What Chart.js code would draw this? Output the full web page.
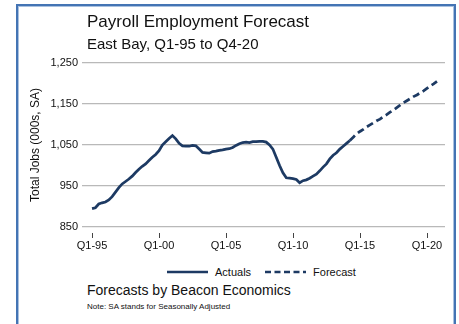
<!DOCTYPE html>
<html lang="en">
<head>
  <meta charset="UTF-8">
  <title>Payroll Employment Forecast</title>
  <script src="https://cdn.jsdelivr.net/npm/chart.js"></script>
  <style>
    body {
      margin: 0;
      width: 459px;
      height: 324px;
      background: #fff;
      font-family: 'Liberation Sans', Arial, sans-serif;
      color: #111;
      position: relative;
      overflow: hidden;
    }
    .frame {
      position: absolute;
      left: 16px;
      top: 4px;
      width: 436px;
      height: 320px;
      border: 2px solid #4474b4;
      box-shadow: inset 0 0 0 1px #a9c1e0;
    }
    #chart {
      position: absolute;
      left: 0;
      top: 0;
    }
    .text {
      position: absolute;
      left: 87px;
      white-space: nowrap;
    }
    .title { top: 12px; font-size: 17px; }
    .subtitle { top: 35px; font-size: 15px; }
    .source { top: 282px; font-size: 14px; }
    .note { top: 302px; font-size: 8px; }
    .legend {
      position: absolute;
      top: 266px;
      left: 167px;
      font-size: 11px;
      display: flex;
      align-items: center;
    }
    .legend svg { margin-right: 7px; }
    .legend span { margin-right: 14px; }
  </style>
</head>
<body>
  <div class="frame"></div>
  <canvas id="chart" width="459" height="260"></canvas>
  <div class="text title">Payroll Employment Forecast</div>
  <div class="text subtitle">East Bay, Q1-95 to Q4-20</div>
  <div class="legend">
    <svg width="41" height="6"><line x1="0" y1="3" x2="41" y2="3" stroke="#1d3a63" stroke-width="2.5"/></svg>
    <span>Actuals</span>
    <svg width="41" height="6"><line x1="0" y1="3" x2="41" y2="3" stroke="#1d3a63" stroke-width="2.5" stroke-dasharray="6 3.5"/></svg>
    <span>Forecast</span>
  </div>
  <div class="text source">Forecasts by Beacon Economics</div>
  <div class="text note">Note: SA stands for Seasonally Adjusted</div>

  <script>
    // quarterly payroll jobs (000s, SA), index 0 = Q1-95
    const actuals = [
      895, 897, 906, 909, 911, 916, 924, 935, 946, 955,
      961, 967, 974, 983, 991, 998, 1004, 1012, 1020, 1027,
      1036, 1050, 1058, 1066, 1073, 1065, 1054, 1048, 1047, 1047,
      1049, 1048, 1040, 1032, 1031, 1030, 1034, 1035, 1037, 1038,
      1040, 1041, 1044, 1049, 1053, 1056, 1057, 1056, 1058, 1058,
      1059, 1059, 1057, 1050, 1040, 1020, 1000, 982, 970, 969,
      968, 966, 958, 963, 965, 969, 974, 979, 987, 996,
      1004, 1016, 1025, 1031, 1040, 1047, 1054, 1061
    ];
    // forecast picks up at the last actual quarter (Q2-14) and runs to Q4-20
    const forecastStart = 77;
    const forecast = [
      1061, 1069, 1077, 1083, 1088, 1094, 1099, 1104, 1109, 1113,
      1119, 1124, 1130, 1135, 1141, 1147, 1153, 1158, 1163, 1168,
      1172, 1177, 1182, 1188, 1194, 1199, 1205
    ];
    const xTickLabels = ['Q1-95', 'Q1-00', 'Q1-05', 'Q1-10', 'Q1-15', 'Q1-20'];
    const quartersPerTick = 20;
    const yTicks = [850, 950, 1050, 1150, 1250];

    const navy = '#1d3a63';
    const font = { family: "'Liberation Sans', Arial, sans-serif", size: 11 };

    // short tick marks under the x axis, a little below the bottom gridline
    const tickMarks = {
      id: 'tickMarks',
      afterDraw(chart) {
        const { ctx, scales: { x }, chartArea } = chart;
        ctx.save();
        ctx.strokeStyle = '#444';
        ctx.lineWidth = 1;
        x.ticks.forEach(t => {
          const px = Math.round(x.getPixelForValue(t.value)) + 0.5;
          ctx.beginPath();
          ctx.moveTo(px, chartArea.bottom + 6);
          ctx.lineTo(px, chartArea.bottom + 11);
          ctx.stroke();
        });
        ctx.restore();
      }
    };

    new Chart(document.getElementById('chart'), {
      type: 'line',
      data: {
        datasets: [
          {
            label: 'Actuals',
            data: actuals.map((v, i) => ({ x: i, y: v })),
            borderColor: navy,
            borderWidth: 2.75,
            pointRadius: 0,
            tension: 0
          },
          {
            label: 'Forecast',
            data: forecast.map((v, i) => ({ x: forecastStart + i, y: v })),
            borderColor: navy,
            borderWidth: 2.75,
            borderDash: [7, 4],
            pointRadius: 0,
            tension: 0
          }
        ]
      },
      options: {
        responsive: false,
        animation: false,
        layout: { padding: { top: 63, right: 14, left: 0, bottom: 0 } },
        plugins: {
          legend: { display: false },
          tooltip: { enabled: false }
        },
        scales: {
          x: {
            type: 'linear',
            min: -3,
            max: 105.4,
            afterBuildTicks: s => {
              s.ticks = xTickLabels.map((_, i) => ({ value: i * quartersPerTick }));
            },
            afterFit: s => { s.height = 33; },
            grid: { display: false },
            border: { display: false },
            ticks: {
              autoSkip: false,
              maxRotation: 0,
              padding: 4,
              color: '#111',
              font,
              callback: v => xTickLabels[v / quartersPerTick]
            }
          },
          y: {
            min: 850,
            max: 1250,
            afterBuildTicks: s => { s.ticks = yTicks.map(v => ({ value: v })); },
            afterFit: s => { s.width = 82; },
            grid: { color: '#b9b9b9', lineWidth: 1.2, drawTicks: false },
            border: { display: false },
            ticks: {
              padding: 4,
              color: '#111',
              font,
              callback: v => v.toLocaleString('en-US')
            },
            title: {
              display: true,
              text: 'Total Jobs (000s, SA)',
              color: '#111',
              font: { family: font.family, size: 12 },
              padding: { top: 28, bottom: 0 }
            }
          }
        }
      },
      plugins: [tickMarks]
    });
  </script>
</body>
</html>
